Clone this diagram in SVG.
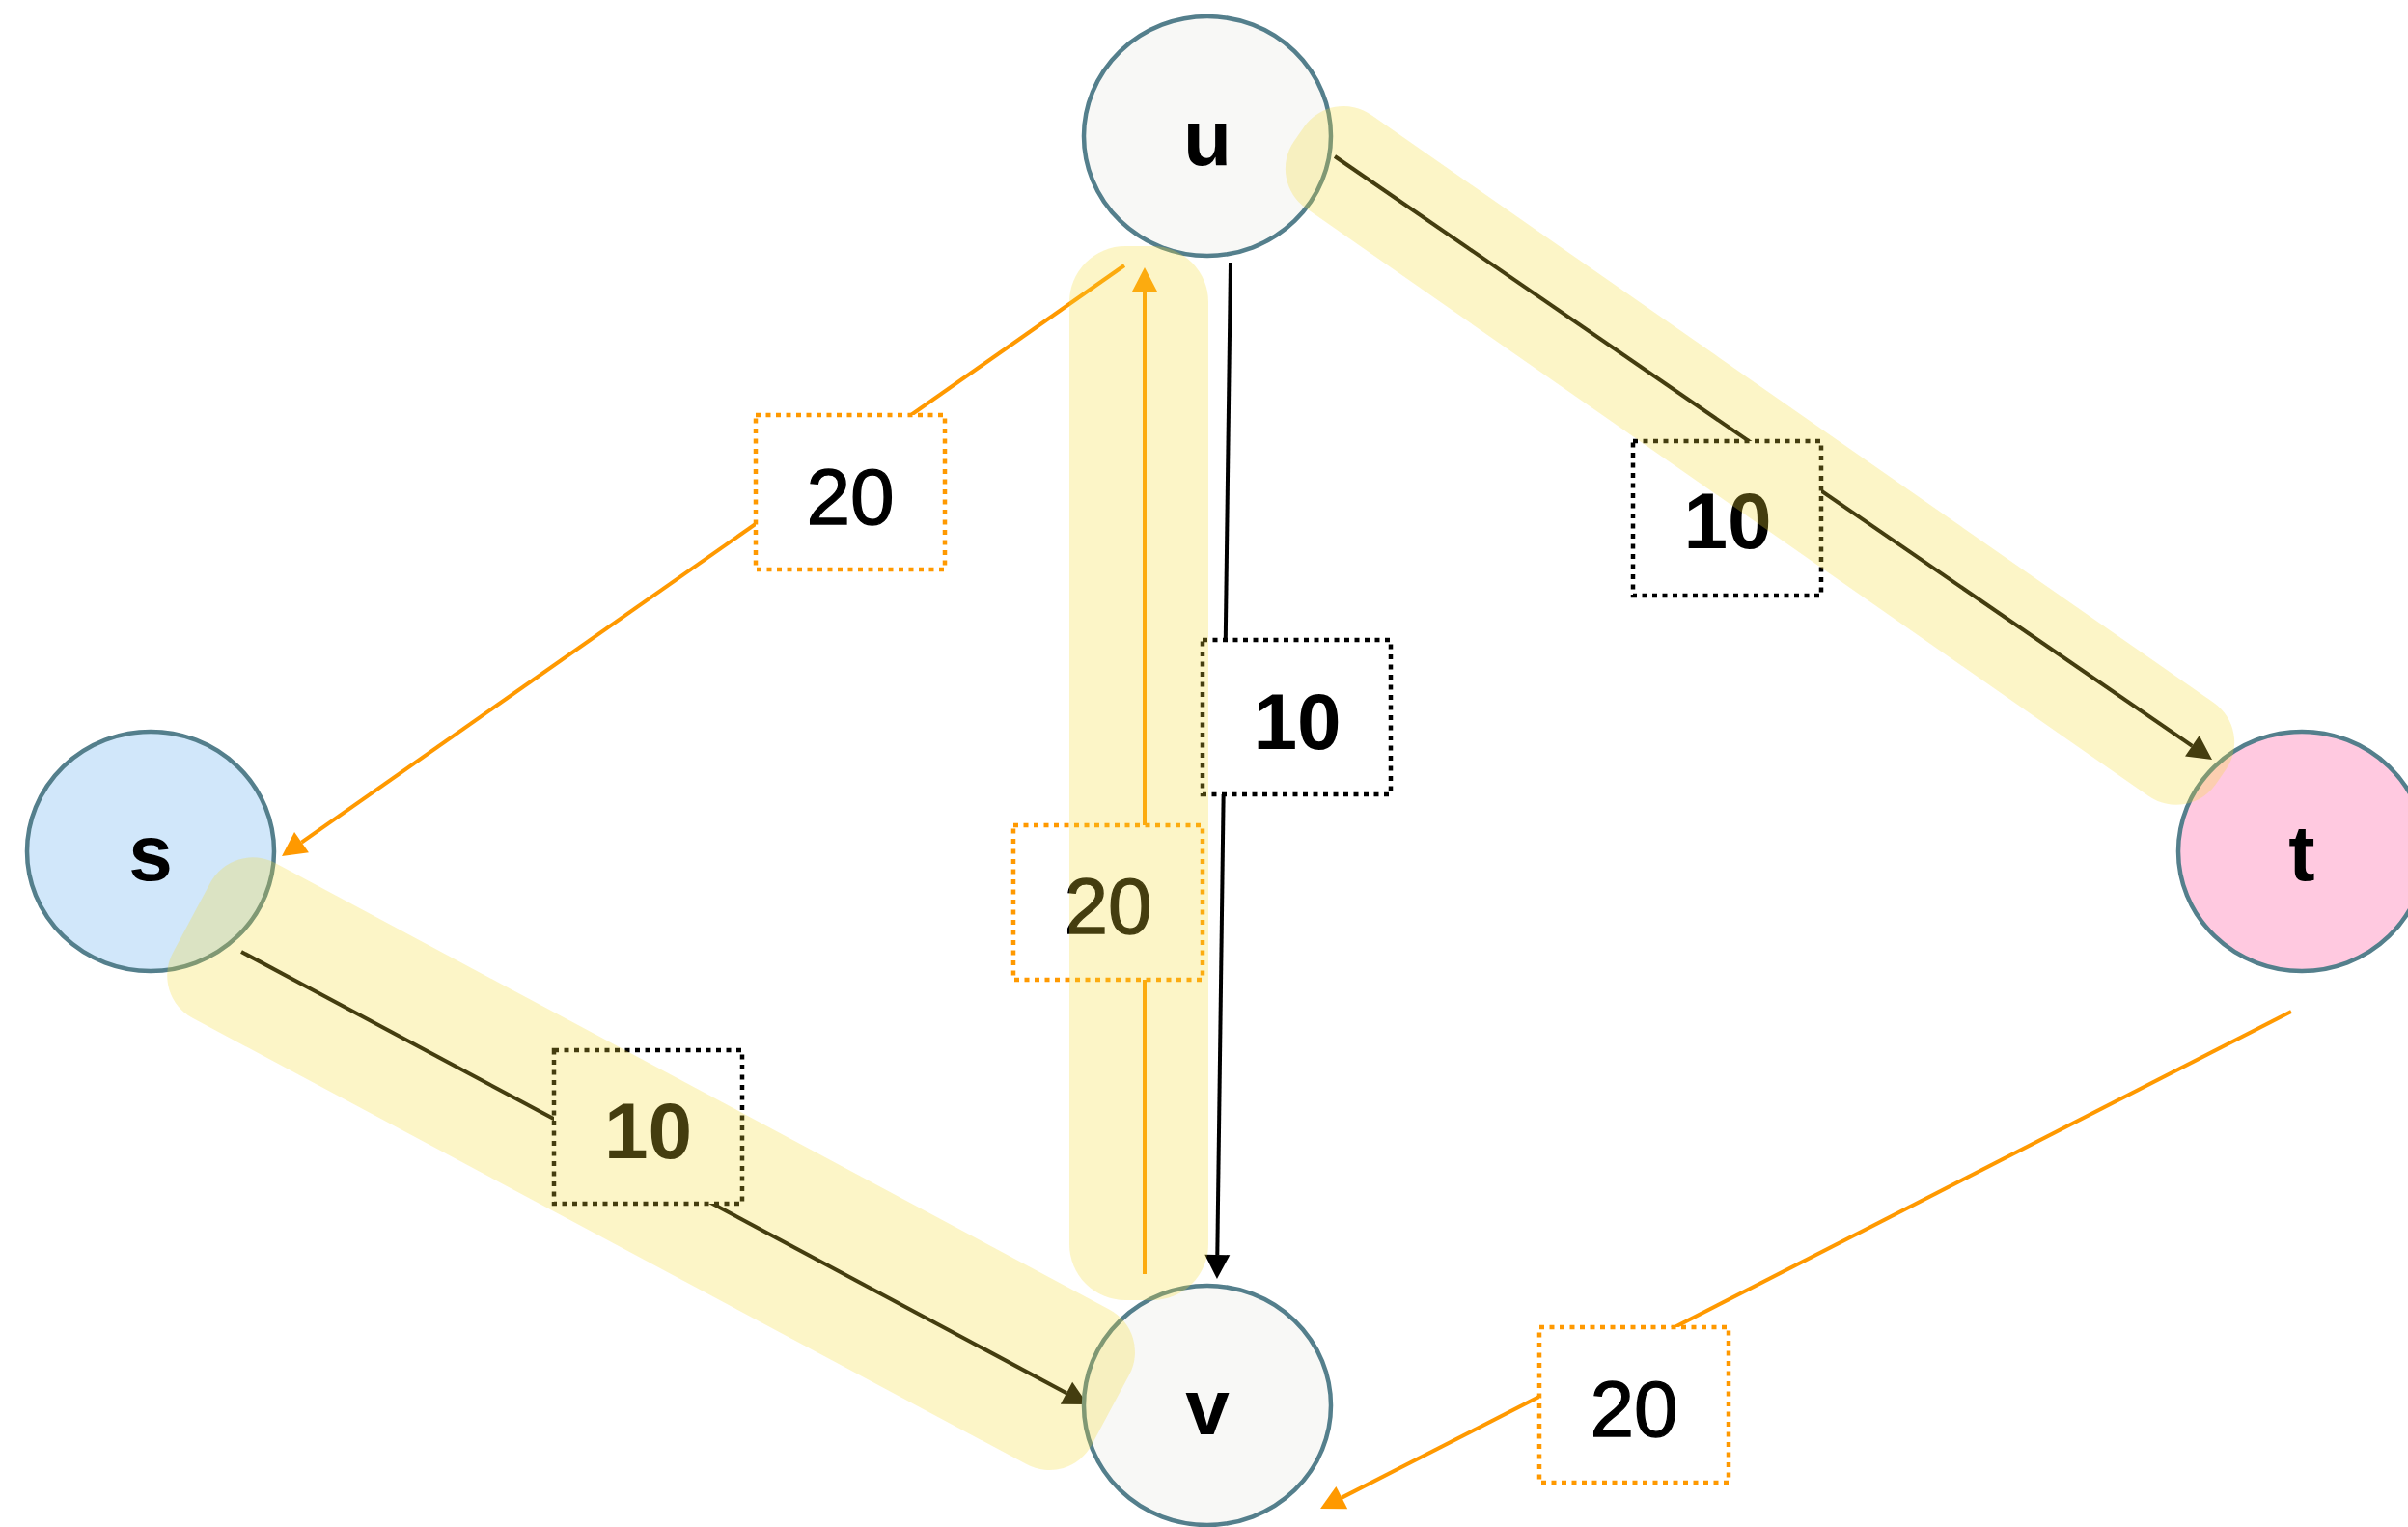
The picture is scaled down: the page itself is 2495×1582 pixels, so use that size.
<svg xmlns="http://www.w3.org/2000/svg" width="2495" height="1582" viewBox="0 0 2495 1582">
<style>
.edge{fill:none;stroke-width:4;stroke-linecap:butt}
.blk{stroke:#000}
.org{stroke:#ff9900}
.lbl{fill:#fff;stroke-width:4.5;stroke-dasharray:5 5.5}
.lblk{stroke:#000}
.lorg{stroke:#ff9900}
.etxt{font-family:"Liberation Sans",Arial,Helvetica,sans-serif;font-size:82px;fill:#000;text-anchor:middle;stroke:#000;stroke-width:1.3}
.bold{font-weight:bold;stroke:none}
.node{stroke:#547f8c;stroke-width:4.5}
.ntxt{font-family:"Liberation Sans",Arial,Helvetica,sans-serif;font-size:82px;font-weight:bold;fill:#000;text-anchor:middle}
.hl{fill:rgb(246,218,54);fill-opacity:0.28;stroke:none}
</style>
<defs>
<marker id="ahB" markerUnits="userSpaceOnUse" markerWidth="25" markerHeight="26" refX="0" refY="13" orient="auto" overflow="visible"><path d="M0,0 L25,13 L0,26 Z" fill="#000"/></marker>
<marker id="ahO" markerUnits="userSpaceOnUse" markerWidth="25" markerHeight="26" refX="0" refY="13" orient="auto" overflow="visible"><path d="M0,0 L25,13 L0,26 Z" fill="#ff9900"/></marker>
</defs>
<rect width="2495" height="1582" fill="#fff"/>
<g id="connectors">
<line id="e-u-t" class="edge blk" x1="1383" y1="162" x2="2271.4" y2="772.8" marker-end="url(#ahB)"/>
<line id="e-u-v" class="edge blk" x1="1275" y1="272" x2="1261.3" y2="1300" marker-end="url(#ahB)"/>
<line id="e-s-v" class="edge blk" x1="250" y1="986" x2="1105" y2="1443.2" marker-end="url(#ahB)"/>
<line id="e-u-s" class="edge org" x1="1165" y1="275" x2="312.5" y2="872.6" marker-end="url(#ahO)"/>
<line id="e-v-u" class="edge org" x1="1186" y1="1320" x2="1186" y2="302" marker-end="url(#ahO)"/>
<line id="e-t-v" class="edge org" x1="2374" y1="1048" x2="1390.3" y2="1551.6" marker-end="url(#ahO)"/>
<g id="label-u-s"><rect class="lbl lorg" x="783" y="430" width="196" height="160"/><text class="etxt" x="881" y="543">20</text></g>
<g id="label-u-t"><rect class="lbl lblk" x="1692" y="457" width="195" height="160"/><text class="etxt bold" x="1790" y="568">10</text></g>
<g id="label-u-v"><rect class="lbl lblk" x="1246" y="663" width="195" height="160"/><text class="etxt bold" x="1344" y="776">10</text></g>
<g id="label-v-u"><rect class="lbl lorg" x="1050" y="855" width="196" height="160"/><text class="etxt" x="1148" y="967">20</text></g>
<g id="label-s-v"><rect class="lbl lblk" x="574" y="1088" width="195" height="159"/><text class="etxt bold" x="671.5" y="1200">10</text></g>
<g id="label-t-v"><rect class="lbl lorg" x="1595" y="1375" width="196" height="161"/><text class="etxt" x="1693" y="1488">20</text></g>
</g>
<g id="node-u"><ellipse class="node" cx="1251" cy="141" rx="128" ry="124" fill="#f8f8f6"/><text class="ntxt" x="1251" y="171">u</text></g>
<g id="node-s"><ellipse class="node" cx="156" cy="882" rx="128" ry="124" fill="#d1e7fa"/><text class="ntxt" x="156" y="912">s</text></g>
<g id="node-t"><ellipse class="node" cx="2385" cy="882" rx="128" ry="124" fill="#ffc9e0"/><text class="ntxt" x="2385" y="912">t</text></g>
<g id="node-v"><ellipse class="node" cx="1251" cy="1456" rx="128" ry="124" fill="#f8f8f6"/><text class="ntxt" x="1251" y="1486">v</text></g>
<g id="highlights">
<rect class="hl" x="1241.3" y="412.9" width="1164.4" height="118" rx="50" transform="rotate(34.9 1823.5 471.9)"/>
<rect class="hl" x="1108" y="255" width="144" height="1092" rx="58"/>
<rect class="hl" x="134.6" y="1114.7" width="1080" height="182" rx="50" transform="rotate(28.15 674.6 1205.7)"/>
</g>
</svg>
